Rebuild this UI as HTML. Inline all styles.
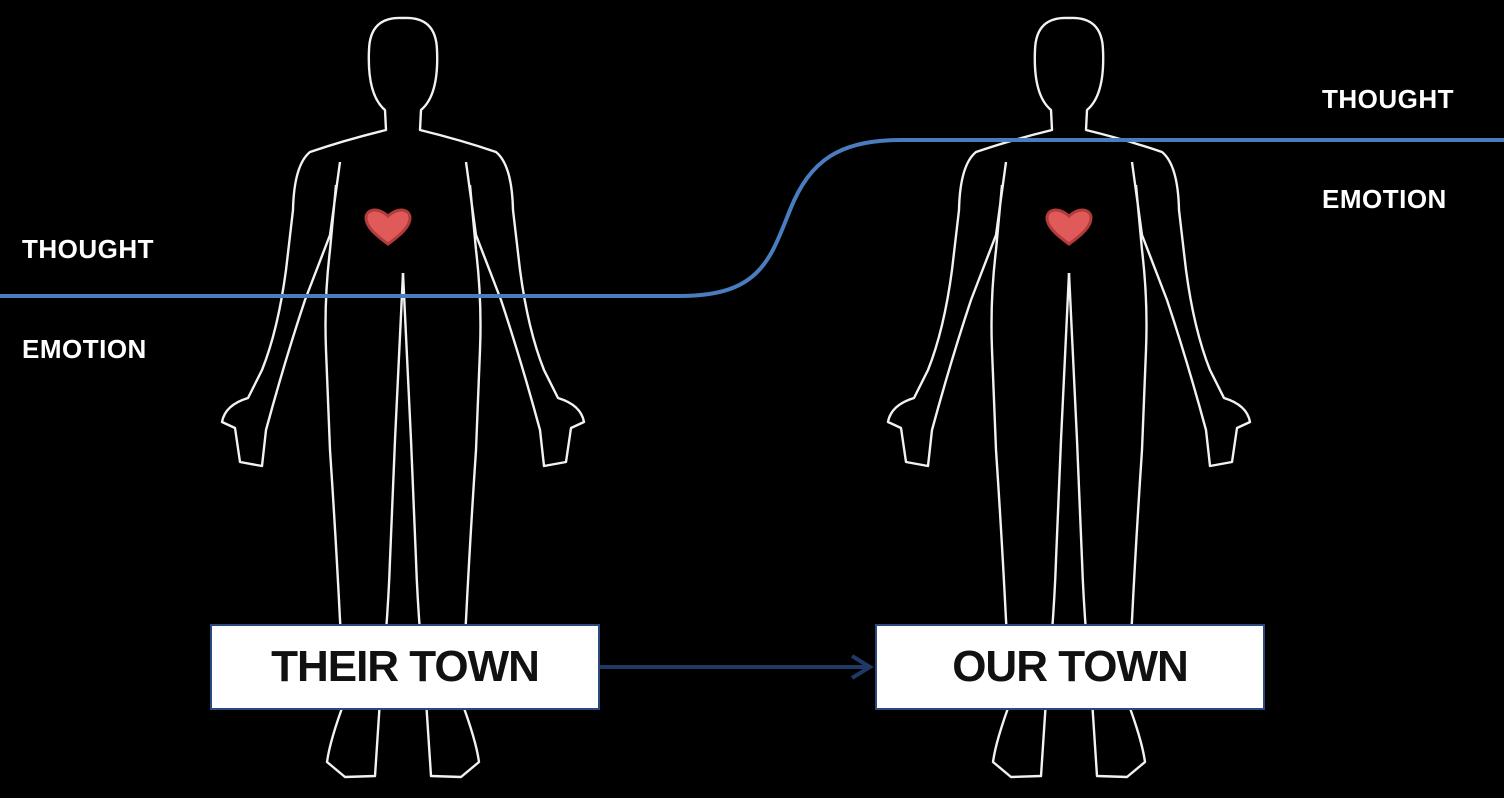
<!DOCTYPE html>
<html><head><meta charset="utf-8"><style>
html,body{margin:0;padding:0;background:#000;}
body{width:1504px;height:798px;overflow:hidden;position:relative;font-family:"Liberation Sans",sans-serif;}
.l{position:absolute;color:#fff;font-weight:bold;font-size:26px;letter-spacing:0.5px;}
.box{position:absolute;background:#fff;border:2px solid #2a4a7f;box-sizing:border-box;display:flex;align-items:center;justify-content:center;font-weight:bold;font-size:44px;color:#111;letter-spacing:-1px;}
</style></head><body>
<svg width="1504" height="798" style="position:absolute;left:0;top:0">
<defs>
<g id="half">
<path d="M403,18 Q370,16 369,50 Q367,95 385,110 L386,130 Q345,140 310,152 Q294,165 293,210 L286,270 Q278,330 262,370 L248,398 Q225,405 222,422 L235,428 L240,462 L262,466 L266,430 Q285,360 305,300 L330,235 L340,162 M336,185 L330,250 Q324,300 326,350 L330,450 Q336,540 340,620 L345,700 Q330,740 327,762 L345,777 L375,776 L380,700 Q388,620 390,560 L395,440 L403,273" fill="none" stroke="#f2f2f2" stroke-width="2.4" stroke-linejoin="round"/>
</g>
<g id="heart"><path d="M0,18 C-14,8 -22,0 -22,-8 C-22,-16 -12,-20 0,-10 C12,-20 22,-16 22,-8 C22,0 14,8 0,18 Z" fill="#e05a5a" stroke="#b23c3c" stroke-width="3"/></g>
</defs>
<use href="#half"/>
<use href="#half" transform="translate(806,0) scale(-1,1)"/>
<use href="#half" transform="translate(666,0)"/>
<use href="#half" transform="translate(1472,0) scale(-1,1)"/>
<use href="#heart" transform="translate(388,226)"/>
<use href="#heart" transform="translate(1069,226)"/>
<path d="M0,296 L680,296 C760,296 770,260 790,210 C810,160 840,140 900,140 L1504,140" fill="none" stroke="#4a7cc0" stroke-width="4"/>
<line x1="600" y1="667" x2="868" y2="667" stroke="#1f3864" stroke-width="4"/>
<polyline points="852,656 870,667 852,678" fill="none" stroke="#1f3864" stroke-width="4"/>
</svg>
<div class="l" style="left:22px;top:234px">THOUGHT</div>
<div class="l" style="left:22px;top:334px">EMOTION</div>
<div class="l" style="left:1322px;top:84px">THOUGHT</div>
<div class="l" style="left:1322px;top:184px">EMOTION</div>
<div class="box" style="left:210px;top:624px;width:390px;height:86px">THEIR TOWN</div>
<div class="box" style="left:875px;top:624px;width:390px;height:86px">OUR TOWN</div>
</body></html>
